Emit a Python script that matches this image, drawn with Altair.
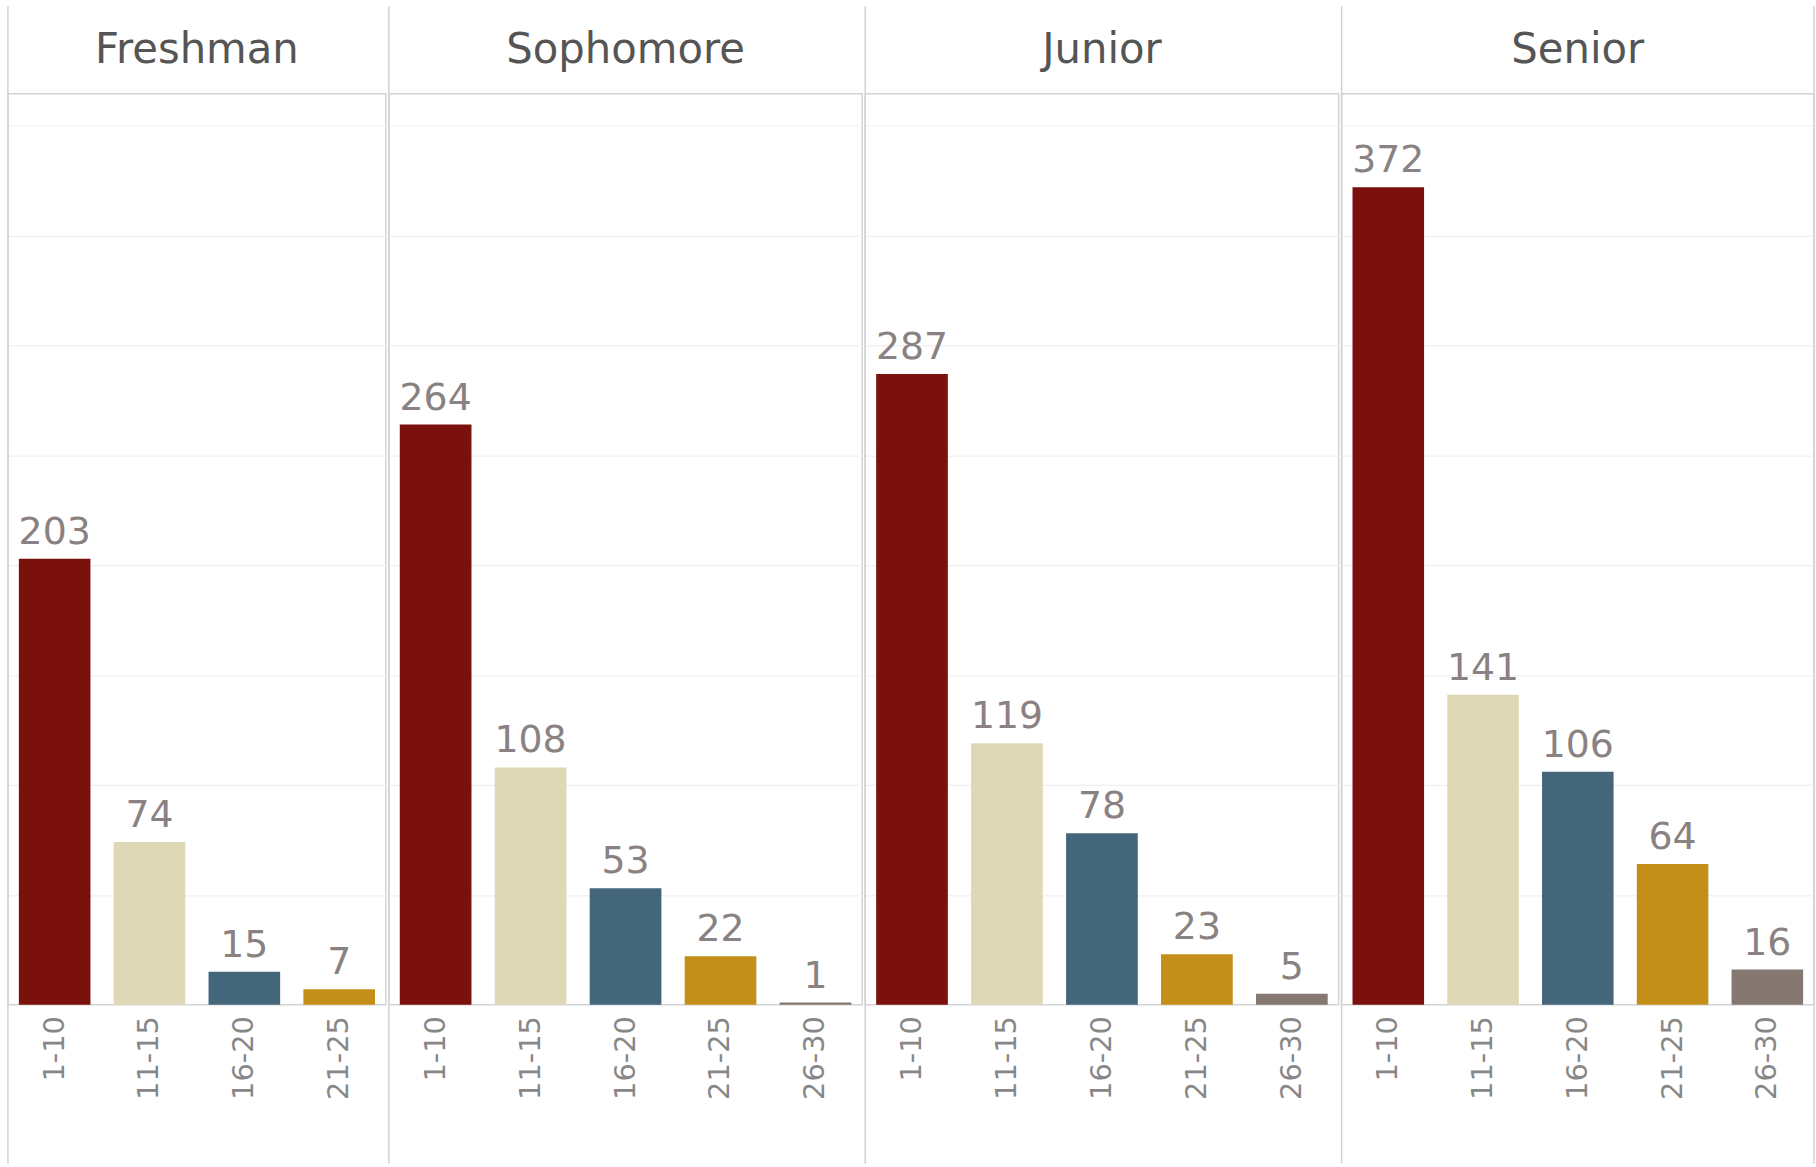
import altair as alt
import pandas as pd

classes = ["Freshman", "Sophomore", "Junior", "Senior"]
ranges = ["1-10", "11-15", "16-20", "21-25", "26-30"]
freshman = [203, 74, 15, 7]
sophomore = [264, 108, 53, 22, 1]
junior = [287, 119, 78, 23, 5]
senior = [372, 141, 106, 64, 16]
colors = ["#7B110C", "#DFD8B6", "#44667B", "#C48F18", "#857870"]
grid_values = [50, 100, 150, 200, 250, 300, 350, 400]

series = [freshman, sophomore, junior, senior]
widths = [380, 476, 476, 475]
H = 916
FONT = "DejaVu Sans"


def panel(name, vals, width, last=False):
    df = pd.DataFrame({"Range": ranges[: len(vals)], "Count": vals})
    base = alt.Chart(df).encode(
        x=alt.X(
            "Range:N",
            sort=ranges,
            scale=alt.Scale(paddingInner=0.245, paddingOuter=0.115),
            axis=alt.Axis(
                title=None,
                labelAngle=270,
                labelFontSize=29,
                labelFont=FONT,
                labelColor="#878787",
                labelPadding=11,
                ticks=False,
                domain=False,
                grid=False,
            ),
        ),
        y=alt.Y(
            "Count:Q",
            scale=alt.Scale(domain=[0, 414.6], nice=False, zero=True),
            axis=alt.Axis(
                title=None,
                labels=False,
                ticks=False,
                domain=False,
                values=grid_values,
                gridColor="#efefef",
                gridWidth=1.2,
            ),
        ),
    )
    bars = base.mark_bar().encode(
        color=alt.Color(
            "Range:N", scale=alt.Scale(domain=ranges, range=colors), legend=None
        )
    )
    text = base.mark_text(
        fontSize=38, font=FONT, color="#8a8282", baseline="alphabetic", dy=-15
    ).encode(text="Count:Q")
    one = pd.DataFrame({"d": [0]})
    left_rule = alt.Chart(one).mark_rule(color="#d3d3d3", strokeWidth=1.5).encode(
        x=alt.value(0), y=alt.value(-88), y2=alt.value(H + 160)
    )
    layers = [bars, text, left_rule]
    if last:
        right_rule = alt.Chart(one).mark_rule(color="#d3d3d3", strokeWidth=1.5).encode(
            x=alt.value(width), y=alt.value(-88), y2=alt.value(H + 160)
        )
        layers.append(right_rule)
    return alt.layer(*layers).properties(
        width=width,
        height=H,
        title=alt.TitleParams(
            text=name,
            fontSize=42,
            font=FONT,
            color="#555555",
            fontWeight="normal",
            anchor="middle",
            frame="group",
            offset=0,
            baseline="alphabetic",
            dy=100,
        ),
    )


panels = [
    panel(c, v, w, last=(i == len(classes) - 1))
    for i, (c, v, w) in enumerate(zip(classes, series, widths))
]

chart = (
    alt.hconcat(*panels, spacing=0)
    .properties(padding={"left": 6, "top": 1, "right": 0, "bottom": 0}, background="white")
    .configure_view(stroke="#d3d3d3", strokeWidth=1.5)
)

chart.save("out.html", embed_options={"renderer": "svg", "actions": False})
